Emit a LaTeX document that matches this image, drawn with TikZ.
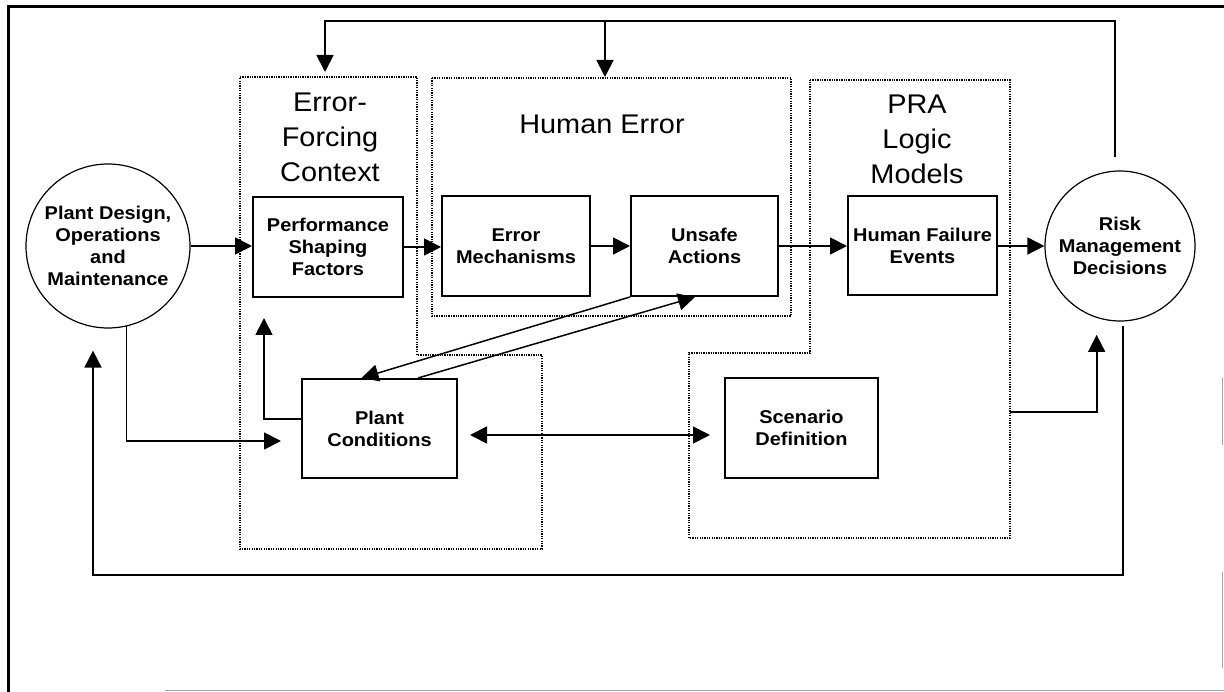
\documentclass[tikz,border=0pt]{standalone}
\usepackage{fontspec}
\usetikzlibrary{arrows.meta,calc}
\newfontfamily\boxfont{Liberation Sans}[FakeStretch=1.08]
\newfontfamily\titlefont{Liberation Sans}[FakeStretch=1.07]
\begin{document}
\begin{tikzpicture}[x=1pt,y=-1pt,
  box/.style={draw, line width=2pt, inner sep=0pt, align=center,
    font=\boxfont\bfseries\fontsize{18.5}{22}\selectfont},
  disc/.style={circle, draw, line width=1.2pt, inner sep=0pt, align=center,
    font=\boxfont\bfseries\fontsize{18.5}{22}\selectfont},
  ttl/.style={inner sep=0pt, align=center,
    font=\titlefont\fontsize{27}{35}\selectfont},
  tip/.tip={Triangle[length=17pt,width=17pt]},
  arr/.style={line width=1.8pt, -tip},
  thinarr/.style={line width=1.5pt, -tip},
  dbl/.style={line width=1.8pt, tip-tip},
  region/.style={line width=1.3pt, dash pattern=on 1.3pt off 1.1pt, black},
]
\useasboundingbox (0,0) rectangle (1224,692);

% page frame
\draw[line width=3pt] (8,692) -- (8,6.5) -- (1224,6.5);
\draw[gray!70, line width=0.8pt] (1222,378) -- (1222,445) (1222,572) -- (1222,668);
\draw[gray!70, line width=1pt] (165,690.5) -- (1224,690.5);

% dotted groupings
\draw[region] (240,77) -- (417,77) -- (417,355) -- (542,355) -- (542,549) -- (240,549) -- cycle;
\draw[region] (432,78) rectangle (791,316);
\draw[region] (810,80) -- (1010,80) -- (1010,538) -- (689,538) -- (689,353) -- (810,353) -- cycle;

% group titles
\node[ttl] (efcT) at (330,137) {Error-\\Forcing\\Context};
\node[ttl] (heT)  at (602,124) {Human Error};
\node[ttl] (praT) at (917,139) {PRA\\Logic\\Models};

% main row
\node[disc, minimum size=164pt] (lc) at (108,246) {Plant Design,\\Operations\\and\\Maintenance};
\node[box, minimum width=150pt, minimum height=100pt] (psf) at (328,247) {Performance\\Shaping\\Factors};
\node[box, minimum width=148pt, minimum height=100pt] (em)  at (516,246) {Error\\Mechanisms};
\node[box, minimum width=147pt, minimum height=100pt] (ua)  at (704.5,246) {Unsafe\\Actions};
\node[box, minimum width=149pt, minimum height=99pt]  (hfe) at (922.5,246) {Human Failure\\Events};
\node[disc, minimum size=150pt] (rmd) at (1120,246) {Risk\\Management\\Decisions};

% lower row
\node[box, minimum width=155pt, minimum height=99pt]  (pc) at (379.5,428.5) {Plant\\Conditions};
\node[box, minimum width=153pt, minimum height=100pt] (sd) at (801.5,428) {Scenario\\Definition};

% forward chain
\draw[arr] (lc.east) -- (psf.west |- lc.east);
\draw[arr] (psf.east) -- (em.west |- psf.east);
\draw[arr] (em) -- (ua);
\draw[arr] (ua) -- (hfe);
\draw[arr] (hfe) -- (rmd);

% plant design feeds plant conditions
\draw[arr, shorten >=20pt] (lc.-77) |- ([yshift=-12.5pt]pc.west);
% plant conditions shape performance
\draw[arr, shorten >=20pt] ([yshift=9.5pt]pc.west) -| ([xshift=-64pt]psf.south);

% plant conditions <-> unsafe actions
\draw[thinarr] (ua.south west) -- ([xshift=-18pt]pc.north);
\draw[thinarr] ([xshift=38.5pt]pc.north) -- ([xshift=-9.5pt]ua.south);

% plant conditions <-> scenario definition
\draw[dbl, shorten <=12pt, shorten >=14pt] ([yshift=-6.5pt]pc.east) -- ([yshift=-7pt]sd.west);

% PRA models feed the decisions
\coordinate (praR) at (1010,412);
\draw[arr, shorten >=17pt] (praR) -| (rmd.-108);

% feedback along the top
\coordinate (fbR) at (1115,21);
\coordinate (fbM) at (605,21);
\coordinate (efcIn) at (325,72);
\coordinate (heIn) at (605,77);
\draw[arr, shorten <=13pt] (rmd.north -| fbR) -- (fbR) -| (efcIn);
\draw[arr] (fbM) -- (heIn);

% feedback along the bottom
\coordinate (loopL) at (93,575);
\draw[arr, shorten <=4pt, shorten >=22pt] (rmd.-88) |- (loopL) -- (lc.south -| loopL);
\end{tikzpicture}
\end{document}
